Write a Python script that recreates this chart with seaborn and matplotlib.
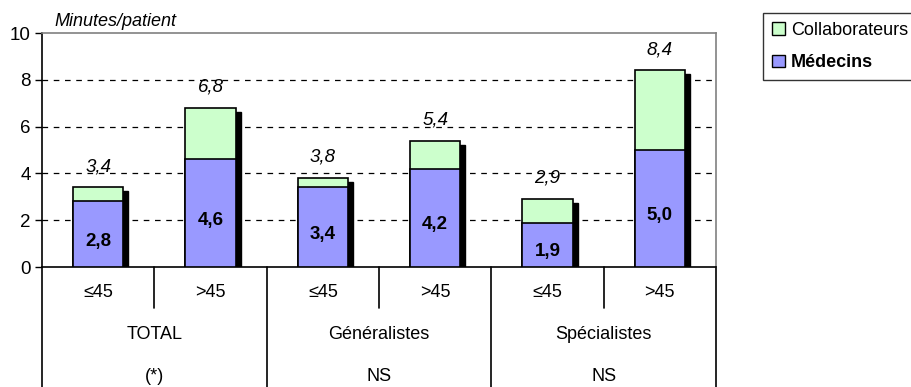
import matplotlib
matplotlib.use("Agg")
import matplotlib.pyplot as plt
import matplotlib.transforms as mtransforms
from matplotlib.patches import Patch
import seaborn as sns
import pandas as pd

# ---- data ----
groups = ["TOTAL", "Généralistes", "Spécialistes"]
group_notes = ["(*)", "NS", "NS"]
age_labels = ["≤45", ">45"]
medecins = [2.8, 4.6, 3.4, 4.2, 1.9, 5.0]
collaborateurs = [0.6, 2.2, 0.4, 1.2, 1.0, 3.4]
totals = [3.4, 6.8, 3.8, 5.4, 2.9, 8.4]
series_names = ["Collaborateurs", "Médecins"]
y_label = "Minutes/patient"
y_ticks = [0, 2, 4, 6, 8, 10]

col_green = "#CCFFCC"
col_blue = "#9999FF"

sns.set_theme(style="white")
plt.rcParams["font.family"] = ["Liberation Sans", "DejaVu Sans"]
plt.rcParams["text.color"] = "black"
plt.rcParams["axes.labelcolor"] = "black"
plt.rcParams["xtick.color"] = "black"
plt.rcParams["ytick.color"] = "black"

cats = [f"{g} {a}" for g in groups for a in age_labels]
df = pd.DataFrame({"cat": cats, "med": medecins,
                   "collab": collaborateurs, "total": totals})

fig = plt.figure(figsize=(9.11, 3.87), dpi=100)
ax = fig.add_axes([42 / 911, 1 - 267 / 387, (716 - 42) / 911, (267 - 33) / 387])

bw = 0.45
# shadow
sns.barplot(data=df, x="cat", y="total", order=cats, color="black",
            width=bw, saturation=1, ax=ax, zorder=2)
n_sh = len(ax.patches)
off = mtransforms.offset_copy(ax.transData, fig=fig, x=5, y=-4, units="dots")
for p in ax.patches[:n_sh]:
    p.set_transform(off)
    p.set_edgecolor("black")
# total (collaborateurs on top)
sns.barplot(data=df, x="cat", y="total", order=cats, color=col_green,
            width=bw, saturation=1, ax=ax, zorder=3,
            edgecolor="black", linewidth=1.2)
# medecins
sns.barplot(data=df, x="cat", y="med", order=cats, color=col_blue,
            width=bw, saturation=1, ax=ax, zorder=4,
            edgecolor="black", linewidth=1.2)

ax.set_ylim(0, 10)
ax.set_xlim(-0.5, len(cats) - 0.5)
ax.set_yticks(y_ticks)
ax.set_yticklabels([str(t) for t in y_ticks], fontsize=13.5, color="black")
ax.tick_params(axis="y", direction="out", length=5, width=1, color="black",
               left=True, pad=3)
ax.set_xticks([])
ax.set_xlabel("")
ax.set_ylabel("")
for v in [2, 4, 6, 8]:
    ax.axhline(v, color="black", lw=0.9, ls=(0, (4.5, 4.5)), zorder=1)

for s in ["top", "right"]:
    ax.spines[s].set_color("#808080")
    ax.spines[s].set_linewidth(1.2)
for s in ["left", "bottom"]:
    ax.spines[s].set_color("black")
    ax.spines[s].set_linewidth(1.2)

# labels
for i, (m, t) in enumerate(zip(medecins, totals)):
    ax.text(i, m / 2 - 0.3, f"{m:.1f}".replace(".", ","), ha="center",
            va="center", fontsize=13.5, fontweight="bold", color="black",
            zorder=6)
    ax.annotate(f"{t:.1f}".replace(".", ","), (i, t), xytext=(0, 15),
                textcoords="offset points", ha="center", va="center",
                fontsize=13.5, style="italic", color="black", zorder=6)

ax.text(0.018, 1.048, y_label, transform=ax.transAxes, fontsize=13,
        style="italic", ha="left", va="center", color="black")

# category table below axis
tr = mtransforms.blended_transform_factory(ax.transData, ax.transAxes)
ybot = -0.52
for k in range(len(groups) + 1):
    x = -0.5 + 2 * k
    ax.plot([x, x], [0, ybot], transform=tr, color="black", lw=1.2,
            clip_on=False)
for k in range(len(groups)):
    x = 0.5 + 2 * k
    ax.plot([x, x], [0, -0.175], transform=tr, color="black", lw=1.2,
            clip_on=False)
for i, c in enumerate(cats):
    ax.text(i, -0.111, age_labels[i % 2], transform=tr, ha="center",
            va="center", fontsize=13, color="black")
for k, (g, n) in enumerate(zip(groups, group_notes)):
    ax.text(2 * k + 0.5, -0.29, g, transform=tr, ha="center", va="center",
            fontsize=13, color="black")
    ax.text(2 * k + 0.5, -0.47, n, transform=tr, ha="center", va="center",
            fontsize=13, color="black")

# legend
handles = [Patch(facecolor=col_green, edgecolor="black", lw=1),
           Patch(facecolor=col_blue, edgecolor="black", lw=1)]
leg = fig.legend(handles, series_names, loc="upper left",
                 bbox_to_anchor=(763 / 911, 1 - 13 / 387),
                 frameon=True, fancybox=False, fontsize=13,
                 handlelength=0.7, handleheight=0.7, handletextpad=0.35,
                 borderaxespad=0, borderpad=0.5, labelspacing=0.85)
leg.get_frame().set_edgecolor("black")
leg.get_frame().set_linewidth(1)
for t in leg.get_texts():
    t.set_color("black")
leg.get_texts()[1].set_fontweight("bold")

fig.savefig("out.png", dpi=100)
